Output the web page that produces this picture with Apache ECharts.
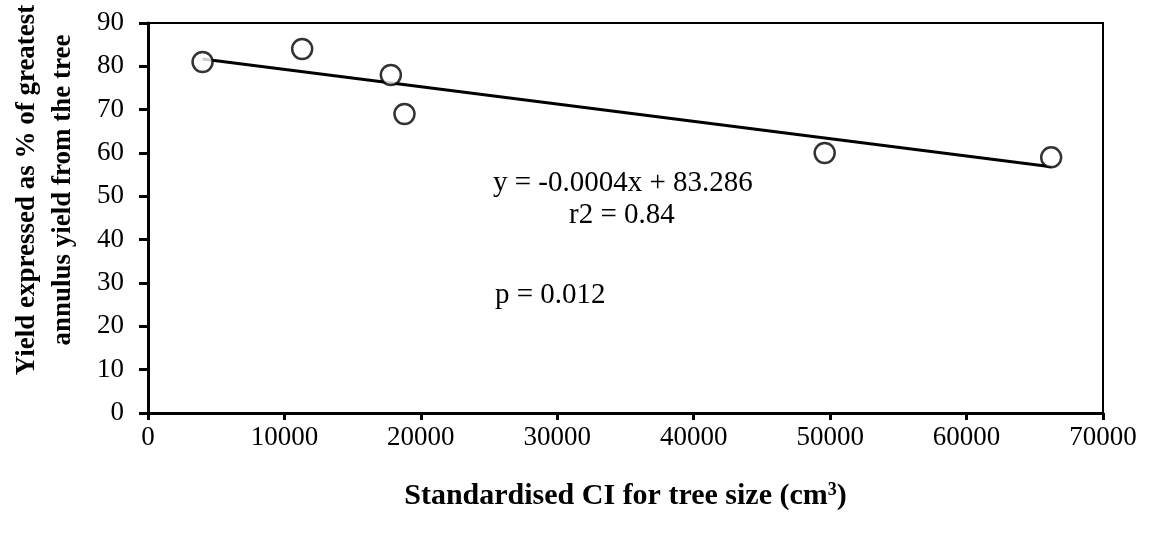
<!DOCTYPE html>
<html><head><meta charset="utf-8">
<script src="https://cdn.jsdelivr.net/npm/echarts@6/dist/echarts.min.js"></script>
<style>html,body{margin:0;padding:0;background:#fff}#c{width:1152px;height:534px}</style>
</head><body><div id="c"></div>
<script>
var ciValues = [4000, 11300, 17800, 18800, 49600, 66200];
var yieldValues = [81, 84, 78, 69, 60, 59];
var trendSlope = -0.0004;
var trendIntercept = 83.286;
var equationText = 'y = -0.0004x + 83.286';
var r2Text = 'r2 = 0.84';
var pText = 'p = 0.012';
var yTitle = 'Yield expressed as % of greatest\nannulus yield from the tree';

var points = ciValues.map(function(x, i){ return [x, yieldValues[i]]; });
var xMin = Math.min.apply(null, ciValues), xMax = Math.max.apply(null, ciValues);
var trend = [[xMin, trendSlope*xMin + trendIntercept], [xMax, trendSlope*xMax + trendIntercept]];

var serif = '"Liberation Serif", "DejaVu Serif", serif';
var chart = echarts.init(document.getElementById('c'));
chart.setOption({
  animation: false,
  backgroundColor: '#fff',
  grid: {left: 148, right: 49, top: 23, bottom: 121, show: true, borderColor: '#000', borderWidth: 2,
         backgroundColor: 'transparent', containLabel: false, outerBoundsMode: 'none'},
  xAxis: {
    type: 'value', min: 0, max: 70000, interval: 10000,
    axisLine: {show: true, onZero: false, lineStyle: {color: '#000', width: 3}},
    axisTick: {show: true, length: 7, lineStyle: {color: '#000', width: 3}},
    axisLabel: {color: '#000', fontFamily: serif, fontSize: 27, margin: 11, formatter: function(v){ return String(v); }},
    splitLine: {show: false},
    name: '{b|Standardised CI for tree size (cm}{sup|3}{b|)}',
    nameLocation: 'middle', nameGap: 68,
    nameTextStyle: {rich: {
      b: {fontFamily: serif, fontWeight: 'bold', fontSize: 30, color: '#000'},
      sup: {fontFamily: serif, fontWeight: 'bold', fontSize: 18, color: '#000', verticalAlign: 'top', padding: [0,0,12,0]}
    }}
  },
  yAxis: {
    type: 'value', min: 0, max: 90, interval: 10,
    axisLine: {show: true, lineStyle: {color: '#000', width: 3}},
    axisTick: {show: true, length: 9, lineStyle: {color: '#000', width: 3}},
    axisLabel: {color: '#000', fontFamily: serif, fontSize: 27, margin: 24},
    splitLine: {show: false}
  },
  series: [
    {type: 'line', data: trend, symbol: 'none', lineStyle: {color: '#000', width: 3}, silent: true, z: 1},
    {type: 'scatter', data: points, symbol: 'circle', symbolSize: 20,
     itemStyle: {color: '#fff', borderColor: '#000', borderWidth: 2.5}, z: 2}
  ],
  graphic: [
    {type: 'text', x: 45, y: 190, rotation: Math.PI / 2,
     style: {text: yTitle, font: 'bold 27px ' + serif, fill: '#000', align: 'center', verticalAlign: 'middle', lineHeight: 36}},
    {type: 'text', x: 493, y: 183, style: {text: equationText, font: '29px ' + serif, fill: '#000', verticalAlign: 'middle'}},
    {type: 'text', x: 569, y: 215, style: {text: r2Text, font: '29px ' + serif, fill: '#000', verticalAlign: 'middle'}},
    {type: 'text', x: 495, y: 295, style: {text: pText, font: '29px ' + serif, fill: '#000', verticalAlign: 'middle'}}
  ]
});
</script></body></html>
